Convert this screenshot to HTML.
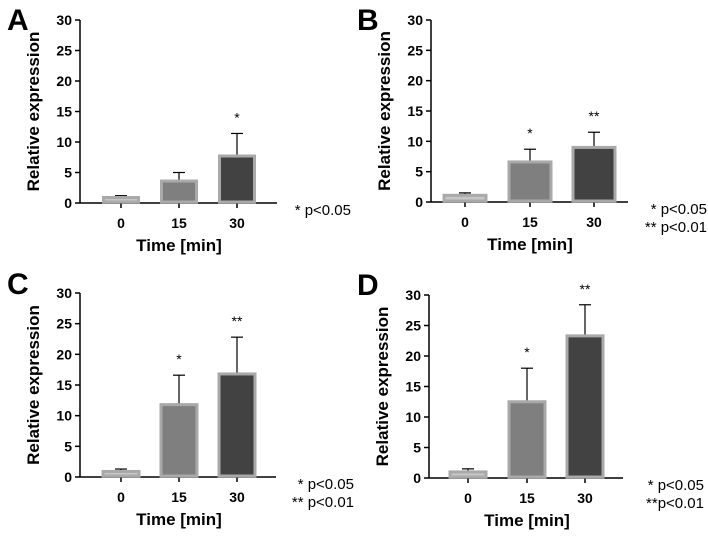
<!DOCTYPE html>
<html><head><meta charset="utf-8"><style>
body{margin:0;background:#fff;}
svg{display:block;font-family:"Liberation Sans",Arial,sans-serif;}
</style></head><body>
<svg id="c" width="708" height="538" viewBox="0 0 708 538" xmlns="http://www.w3.org/2000/svg"></svg>
<script>
const categories = ["0","15","30"];
const yTicks = [0,5,10,15,20,25,30];
const valuesA = [0.9, 3.6, 7.7];
const errorsA = [0.3, 1.4, 3.7];
const starsA = ["", "", "*"];
const valuesB = [1.1, 6.6, 9.0];
const errorsB = [0.4, 2.1, 2.5];
const starsB = ["", "*", "**"];
const valuesC = [0.9, 11.8, 16.8];
const errorsC = [0.4, 4.8, 6.0];
const starsC = ["", "*", "**"];
const valuesD = [1.0, 12.5, 23.3];
const errorsD = [0.5, 5.5, 5.1];
const starsD = ["", "*", "**"];

const svg = document.getElementById('c');
const NS = 'http://www.w3.org/2000/svg';
function mk(tag, attrs, parent){const e=document.createElementNS(NS,tag);for(const k in attrs)e.setAttribute(k,attrs[k]);parent.appendChild(e);return e;}
const fills = ["#c6c6c6","#7f7f7f","#424242"];

function panel(p){
  const g = mk('g',{},svg);
  
  
  const y = v => p.y0 - (v/30)*(p.y0-p.y30);
  const letter = mk('text',{x:p.lx,y:p.ly,'font-size':30,'font-weight':'bold'},g);
  letter.textContent=p.letter;
  
  
  const ya = mk('line',{x1:p.ax,y1:p.y30,x2:p.ax,y2:p.y0,stroke:'#000','stroke-width':1.5},g);
  
  
  const xa = mk('line',{x1:p.ax,y1:p.y0,x2:p.xend,y2:p.y0,stroke:'#000','stroke-width':1.5},g);
  
  
  yTicks.forEach(t=>{
    mk('line',{x1:p.ax-5,y1:y(t),x2:p.ax,y2:y(t),stroke:'#000','stroke-width':1.5},g);
    const tx = mk('text',{x:p.ax-8,y:y(t)+5,'font-size':14,'font-weight':'bold','text-anchor':'end'},g);
    tx.textContent=t;
    
    
  });
  categories.forEach((c,i)=>{
    const cx = p.cx[i];
    mk('line',{x1:cx,y1:p.y0,x2:cx,y2:p.y0+5,stroke:'#000','stroke-width':1.5},g);
    const tx = mk('text',{x:cx,y:p.y0+25,'font-size':14,'font-weight':'bold','text-anchor':'middle'},g);
    tx.textContent=c;
    
    
    const v=p.vals[i], e=p.errs[i], w=p.bw;
    const top=y(v+e);
    mk('line',{x1:cx,y1:y(v),x2:cx,y2:top,stroke:'#000','stroke-width':1.2},g);
    mk('line',{x1:cx-6,y1:top,x2:cx+6,y2:top,stroke:'#000','stroke-width':1.2},g);
    const b = mk('rect',{x:cx-w/2+1.5,y:y(v),width:w-3,height:p.y0-y(v)-1,fill:fills[i],stroke:'#a9a9a9','stroke-width':3},g);
    
    
    if(p.stars[i]){
      const s = mk('text',{x:cx,y:top-11,'font-size':14,'text-anchor':'middle'},g);
      s.textContent=p.stars[i];
      
      
    }
  });
  const yt = mk('text',{transform:`translate(${p.ax-41},${(p.y0+p.y30)/2}) rotate(-90)`,'font-size':17,'font-weight':'bold','text-anchor':'middle'},g);
  yt.textContent='Relative expression';
  
  
  const xt = mk('text',{x:p.cx[1],y:p.y0+48,'font-size':17,'font-weight':'bold','text-anchor':'middle'},g);
  xt.textContent='Time  [min]';
  
  
  p.legend.forEach((l,i)=>{
    const t = mk('text',{x:p.legx,y:p.legy+i*18,'font-size':15,'text-anchor':'end'},g);
    t.textContent=l;
    
    
  });
}
panel({letter:'A',lx:7,ly:30,ax:80,y0:203,y30:20,xend:277,cx:[121,179,237],bw:38,vals:valuesA,errs:errorsA,stars:starsA,legend:['* p<0.05'],legx:351,legy:215});
panel({letter:'B',lx:357,ly:30,ax:431,y0:202,y30:20,xend:628,cx:[465,530,594],bw:45,vals:valuesB,errs:errorsB,stars:starsB,legend:['* p<0.05','** p<0.01'],legx:707,legy:214});
panel({letter:'C',lx:7,ly:294,ax:80,y0:477,y30:293,xend:276,cx:[121,179,237],bw:39,vals:valuesC,errs:errorsC,stars:starsC,legend:['* p<0.05','** p<0.01'],legx:354,legy:489});
panel({letter:'D',lx:357,ly:295,ax:429,y0:478,y30:295,xend:623,cx:[468,527,585],bw:39,vals:valuesD,errs:errorsD,stars:starsD,legend:['* p<0.05','**p<0.01'],legx:704,legy:490});
</script>
</body></html>
